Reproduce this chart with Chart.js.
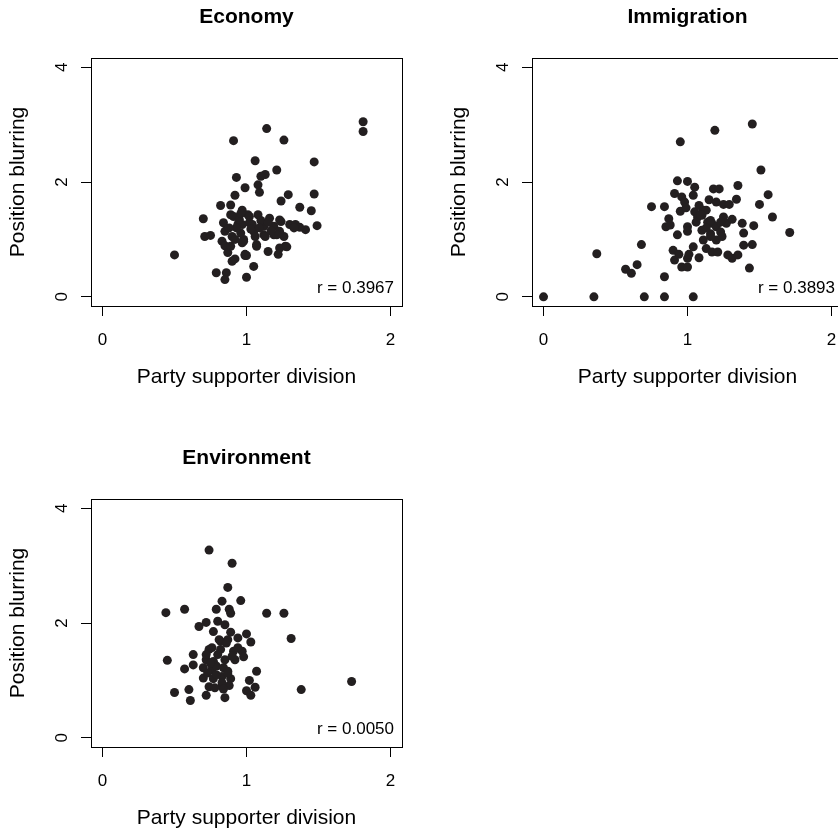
<!DOCTYPE html>
<html>
<head>
<meta charset="utf-8">
<script src="https://cdn.jsdelivr.net/npm/chart.js@4"></script>
<style>
  html, body { margin: 0; padding: 0; background: #fff; overflow: hidden; }
  body { width: 838px; height: 832px; position: relative; }
  canvas { position: absolute; }
</style>
</head>
<body>
<canvas id="econ" width="419" height="416" style="left:0;top:0"></canvas>
<canvas id="imm" width="419" height="416" style="left:441px;top:0"></canvas>
<canvas id="env" width="419" height="416" style="left:0;top:441px"></canvas>
<script>
// panel titles and correlation labels
const panelTitles = ["Economy", "Immigration", "Environment"];
const rValues = ["0.3967", "0.3893", "0.0050"];
const xTicks = [0, 1, 2];
const yTicks = [0, 2, 4];
const xLabel = "Party supporter division";
const yLabel = "Position blurring";

// Economy
const econX = [0.50,0.70,0.71,0.75,0.79,0.86,0.85,0.82,0.89,0.91,0.93,0.92,0.99,0.97,0.89,0.91,0.84,0.85,0.94,0.83,
  0.85,0.90,0.97,0.87,0.92,0.90,0.99,1.00,1.14,1.26,1.81,1.81,1.06,1.47,1.21,1.13,1.10,1.08,1.09,1.29,
  1.47,1.24,1.37,1.45,1.49,1.41,1.37,1.30,1.24,1.16,1.08,1.01,1.02,1.12,1.19,1.26,1.27,1.22,1.15,1.07,
  0.99,1.05,0.98,1.19,1.23,1.02,1.23,0.97,1.04,1.12,0.96,1.05,1.13,1.21,1.34,0.89,0.98,1.07,1.23,1.28,
  1.00,1.33,0.93,1.10,0.95,1.15,0.88,1.06,1.17,0.96,1.03,1.09,0.92];
const econY = [0.73,1.36,1.05,1.07,0.42,0.42,0.30,1.59,1.60,2.72,2.08,1.77,1.90,1.51,1.43,1.40,1.29,1.14,1.26,0.97,
  0.89,1.05,0.94,0.77,0.66,0.62,0.72,0.34,2.93,2.73,3.05,2.88,2.37,2.35,2.21,2.13,2.10,1.95,1.82,1.78,
  1.79,1.67,1.56,1.50,1.24,1.17,1.21,1.26,1.31,1.37,1.43,1.43,1.29,1.08,1.08,1.05,0.88,0.74,0.79,0.88,
  0.74,0.53,1.00,1.23,1.14,1.40,1.34,1.26,1.26,1.23,1.11,1.14,1.05,1.08,1.26,0.88,0.97,0.91,0.85,0.87,
  0.72,1.20,1.20,1.33,1.35,1.30,1.20,1.05,1.15,1.45,1.18,1.20,1.00];

// Immigration
const immX = [0.00,0.35,0.70,0.84,1.04,0.37,0.57,0.61,0.65,0.68,0.75,0.84,0.84,0.87,0.85,0.88,0.93,0.95,0.91,0.96,
  0.98,0.95,0.93,0.90,0.91,0.94,0.96,1.00,1.00,1.01,1.00,1.05,1.04,1.00,1.00,1.04,1.08,1.05,1.08,1.07,
  1.10,1.11,1.13,1.11,1.13,1.17,1.21,1.19,1.18,1.22,1.15,1.20,1.25,1.29,1.34,1.35,1.17,1.20,1.25,1.27,
  1.31,1.16,1.20,1.23,1.28,1.31,1.35,1.38,1.39,1.39,1.45,1.46,1.43,1.45,1.51,1.56,1.50,1.59,1.71,1.10,
  1.14,1.16,1.13,1.24,0.99,1.06,1.09,1.16,1.23];
const immY = [0.00,0.00,0.00,0.00,0.00,0.75,0.48,0.41,0.56,0.91,1.57,1.57,0.35,1.36,1.22,1.25,2.02,2.70,1.80,1.74,
  1.65,1.49,1.08,0.81,0.64,0.74,0.52,0.52,0.67,0.74,2.01,1.91,1.77,1.22,1.14,0.87,0.68,1.48,1.59,1.39,
  1.16,1.51,1.51,0.99,0.84,0.78,0.78,2.90,1.88,1.88,1.69,1.65,1.61,1.61,1.70,1.94,1.28,1.22,1.39,1.28,
  1.35,1.10,0.99,1.13,0.73,0.67,0.73,1.28,1.11,0.90,0.91,1.24,0.50,3.01,2.21,1.78,1.61,1.39,1.12,1.42,
  1.30,1.05,1.20,1.05,1.55,1.30,1.43,1.33,1.30];

// Environment
const envX = [0.74,0.90,0.87,0.83,0.96,0.79,0.88,0.89,0.44,0.57,1.14,1.26,0.67,0.72,0.80,0.85,0.77,0.89,1.00,1.03,
  0.82,0.87,0.94,1.31,0.74,0.82,0.91,0.97,0.63,0.98,0.72,0.77,0.85,0.92,0.45,0.63,0.57,0.70,0.76,0.84,
  0.87,1.07,0.70,0.77,0.83,0.89,1.02,0.74,0.83,0.88,1.06,1.00,0.50,0.60,0.72,0.85,1.03,0.61,1.38,1.73,
  0.72,0.79,0.81,0.76,0.94,0.73,0.79,0.87,0.83,0.78,0.84,0.86,0.80,0.90,0.75];
const envY = [3.27,3.04,2.62,2.38,2.39,2.24,2.24,2.17,2.18,2.24,2.17,2.17,1.94,2.01,2.03,1.97,1.85,1.84,1.81,1.67,
  1.68,1.71,1.74,1.73,1.54,1.54,1.51,1.51,1.45,1.41,1.36,1.33,1.36,1.36,1.35,1.27,1.20,1.22,1.19,1.22,
  1.16,1.16,1.04,1.03,1.07,1.03,1.00,0.89,0.90,0.91,0.88,0.82,0.79,0.84,0.74,0.70,0.74,0.65,0.84,0.98,
  1.45,1.25,1.71,1.57,1.57,1.13,1.10,1.13,0.96,0.87,0.85,1.65,1.45,1.42,1.30];

const INK = "#231f20";
const FAMILY = 'Helvetica, Arial, "Liberation Sans", sans-serif';
Chart.defaults.font.family = FAMILY;
Chart.defaults.color = "#000";

// box round the plot region plus the r annotation
const frame = {
  id: "frame",
  afterDraw(chart, args, opts) {
    const { ctx, chartArea: a } = chart;
    ctx.save();
    ctx.strokeStyle = "#000";
    ctx.lineWidth = 1;
    ctx.strokeRect(Math.round(a.left) + 0.5, Math.round(a.top) + 0.5,
      Math.round(a.right - a.left), Math.round(a.bottom - a.top));
    ctx.fillStyle = "#000";
    ctx.font = "17px " + FAMILY;
    ctx.textAlign = "right";
    ctx.textBaseline = "alphabetic";
    ctx.fillText("r = " + opts.r, a.right - 8, a.bottom - 13);
    ctx.restore();
  }
};

function makePanel(id, title, xs, ys, r) {
  const points = xs.map((x, i) => ({ x: x, y: ys[i] }));
  new Chart(document.getElementById(id), {
    type: "scatter",
    data: {
      datasets: [{
        data: points,
        pointRadius: 4.5,
        pointBackgroundColor: INK,
        pointBorderWidth: 0,
        pointHoverRadius: 4.5
      }]
    },
    options: {
      responsive: false,
      animation: false,
      devicePixelRatio: 1,
      layout: { padding: { left: 0, right: 17, top: 0, bottom: 0 } },
      plugins: {
        legend: { display: false },
        tooltip: { enabled: false },
        title: {
          display: true,
          text: title,
          fullSize: false,
          color: "#000",
          font: { size: 21, weight: "bold" },
          padding: { top: 4.4, bottom: 28.4 }
        },
        frame: { r: r }
      },
      scales: {
        x: {
          type: "linear",
          min: -0.08,
          max: 2.08,
          afterBuildTicks: s => { s.ticks = xTicks.map(v => ({ value: v })); },
          afterFit: s => { s.height = 110; },
          border: { display: false },
          grid: { drawOnChartArea: false, drawTicks: true, tickLength: 10, color: "#000" },
          ticks: { font: { size: 17 }, color: "#000", padding: 14, maxRotation: 0, callback: v => String(v) },
          title: { display: true, text: xLabel, font: { size: 21 }, color: "#000", padding: { top: 0, bottom: 26 } }
        },
        y: {
          type: "linear",
          min: -0.16,
          max: 4.16,
          afterBuildTicks: s => { s.ticks = yTicks.map(v => ({ value: v })); },
          afterFit: s => { s.width = 91; },
          border: { display: false },
          grid: { drawOnChartArea: false, drawTicks: true, tickLength: 10, color: "#000" },
          ticks: { font: { size: 17 }, color: "#000", padding: 14, minRotation: 90, maxRotation: 90,
            crossAlign: "center", callback: v => String(v) },
          title: { display: true, text: yLabel, font: { size: 21 }, color: "#000", padding: { top: 5.4, bottom: 0 } }
        }
      }
    },
    plugins: [frame]
  });
}

makePanel("econ", panelTitles[0], econX, econY, rValues[0]);
makePanel("imm", panelTitles[1], immX, immY, rValues[1]);
makePanel("env", panelTitles[2], envX, envY, rValues[2]);
</script>
</body>
</html>
